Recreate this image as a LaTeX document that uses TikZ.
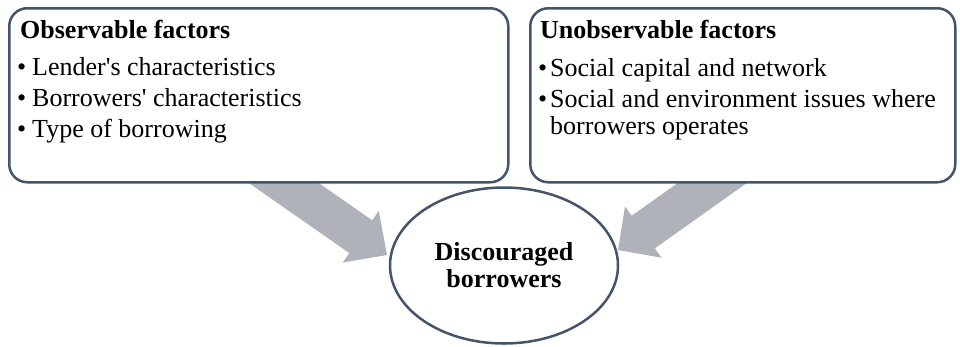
\documentclass[tikz,border=0pt]{standalone}
\usepackage{fontspec}
\setmainfont{Liberation Serif}
\usetikzlibrary{shapes.geometric}
\definecolor{boxline}{HTML}{44546A}
\definecolor{arrowgray}{RGB}{175,178,184}
\begin{document}
\begin{tikzpicture}[x=1pt,y=-1pt,
  factorbox/.style={draw=boxline, line width=2.5pt, rounded corners=18pt, fill=white, inner sep=0pt, anchor=north west, minimum height=174pt},
  txt/.style={anchor=base west, inner sep=0pt, font=\fontsize{26}{31}\selectfont},
  ttl/.style={anchor=base west, inner sep=0pt, font=\fontsize{26}{31}\selectfont\bfseries},
  blockarrow/.style={fill=arrowgray, draw=none},
  outcome/.style={ellipse, draw=boxline, line width=2.5pt, fill=white, inner sep=0pt, align=center, font=\fontsize{26}{27}\selectfont\bfseries}]
\useasboundingbox (0,0) rectangle (960,346);

% block arrows (drawn first, tails hidden behind the boxes)
\coordinate (ltip) at (387,255);
\coordinate (rtip) at (618,250);
\fill[blockarrow, shift={(ltip)}, rotate=-34.9]
  (0,0) -- (-32,31.5) -- (-32,20) -- (-175,20) -- (-175,-20) -- (-32,-20) -- (-32,-31.5) -- cycle;
\fill[blockarrow, shift={(rtip)}, rotate=-144.6]
  (0,0) -- (-31,31.5) -- (-31,20) -- (-175,20) -- (-175,-20) -- (-31,-20) -- (-31,-31.5) -- cycle;

% boxes
\node[factorbox, minimum width=499pt] (obs) at (8,7) {};
\node[factorbox, minimum width=425pt] (unobs) at (529,7) {};

% outcome
\node[outcome, minimum width=228pt, minimum height=156pt] (disc) at (504,265.5) {Discouraged\\borrowers};

% left text
\node[ttl] (obst) at (20,38) {Observable factors};
\node[txt] (ob1b) at (17,75) {•};
\node[txt] (ob1) at (32,75) {Lender\textquotesingle s characteristics};
\node[txt] (ob2b) at (17,106) {•};
\node[txt] (ob2) at (32,106) {Borrowers\textquotesingle{} characteristics};
\node[txt] (ob3b) at (17,137) {•};
\node[txt] (ob3) at (32,137) {Type of borrowing};

% right text
\node[ttl] (unt) at (540,38) {Unobservable factors};
\node[txt] (un1b) at (538,76) {•};
\node[txt] (un1) at (550,76) {Social capital and network};
\node[txt] (un2b) at (538,107) {•};
\node[txt] (un2) at (550,107) {Social and environment issues where};
\node[txt] (un2c) at (550,134) {borrowers operates};
\end{tikzpicture}
\end{document}
